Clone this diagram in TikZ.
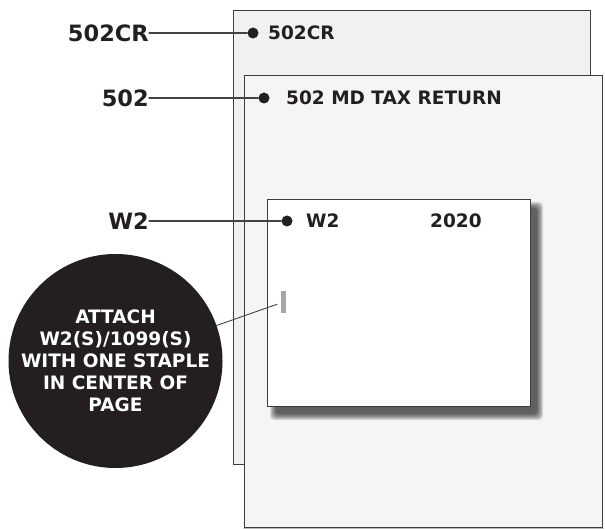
\documentclass[tikz,border=0pt]{standalone}
\usepackage{fontspec}
\setmainfont{DejaVu Sans}
\usepackage{tikz}
\usepackage{xcolor}
\definecolor{inkdark}{HTML}{231F20}
\definecolor{edgegray}{HTML}{3C3C3C}
\definecolor{backfill}{HTML}{F0F1F3}
\definecolor{frontfill}{HTML}{F5F5F5}

\begin{document}
\begin{tikzpicture}[x=1pt,y=-1pt,line cap=round,
  page/.style={draw=edgegray,line width=1.3pt,anchor=north west,inner sep=0pt},
  sidelabel/.style={anchor=east,inner sep=0pt,text=inkdark,font=\fontsize{22.5}{27}\selectfont\bfseries},
  formtext/.style={anchor=west,inner sep=0pt,text=inkdark,font=\fontsize{18.5}{22}\selectfont\bfseries},
  pin/.style={circle,fill=inkdark,inner sep=0pt,minimum size=11pt},
  lead/.style={draw=inkdark!85,line width=1.1pt}]
\useasboundingbox (0,0) rectangle (605,529);
\node[page,fill=backfill,minimum width=357pt,minimum height=454pt] (crpage) at (233,10) {};
\node[page,fill=frontfill,minimum width=358pt,minimum height=452pt] (mdpage) at (244,75) {};
\draw[gray!55,line width=1.3pt] (mdpage.south west) -- (mdpage.south east);
\foreach \k in {0,...,6}
  \fill[black,opacity=0.12,rounded corners=4pt] (270+\k,202+\k) rectangle (543-\k,420-\k);
\node[page,fill=white,minimum width=263pt,minimum height=207pt] (wtwo) at (267,199) {};
\node[formtext] (crtext) at (268,33) {502CR};
\node[formtext] (mdtext) at (286,98) {502 MD TAX RETURN};
\node[formtext] (wtext) at (306,221) {W2};
\node[formtext] (yeartext) at (430,221) {2020};
\node[pin] (crpin) at (253,33) {};
\node[pin] (mdpin) at (264,98) {};
\node[pin] (wpin) at (287,221) {};
\node[sidelabel] (crlabel) at (149,33) {502CR};
\node[sidelabel] (mdlabel) at (149,98) {502};
\node[sidelabel] (wlabel) at (149,221) {W2};
\draw[lead] (crlabel) -- (crpin);
\draw[lead] (mdlabel) -- (mdpin);
\draw[lead] (wlabel) -- (wpin);
\node[fill=gray!70,inner sep=0pt,minimum width=5pt,minimum height=22pt] (staple) at (283.5,302) {};
\node[circle,fill=inkdark,inner sep=0pt,minimum size=206pt,text=white,align=center,
  font=\fontsize{18.5}{22}\selectfont\bfseries] (note) at (115.5,361)
  {ATTACH\\W2(S)/1099(S)\\WITH ONE STAPLE\\IN CENTER OF\\PAGE};
\draw[lead,line width=0.9pt,shorten >=4pt] (note) -- (staple);
\end{tikzpicture}
\end{document}
